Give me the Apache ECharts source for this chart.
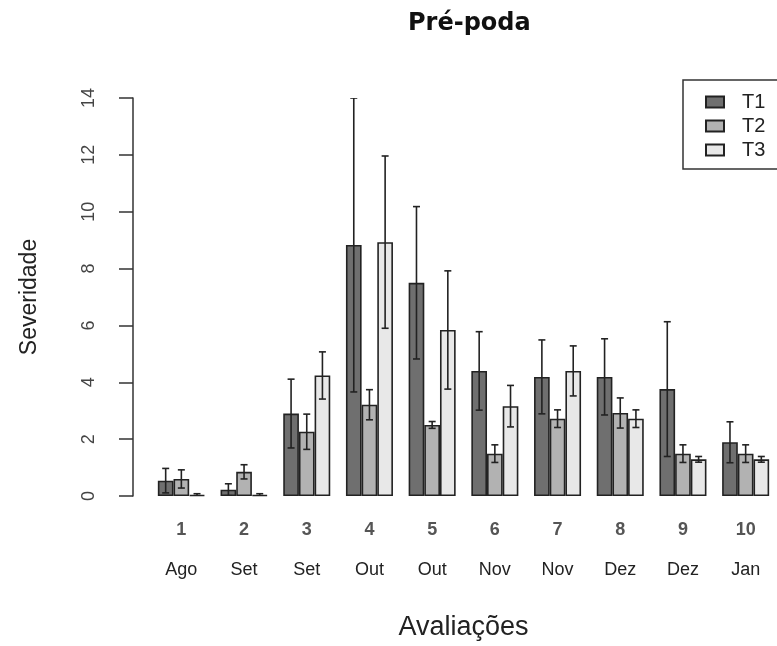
<!DOCTYPE html>
<html>
<head>
<meta charset="utf-8">
<script src="https://cdn.jsdelivr.net/npm/echarts@6/dist/echarts.min.js"></script>
<style>
  html, body { margin: 0; padding: 0; background: #fff; }
  #chart { width: 777px; height: 646px; }
</style>
</head>
<body>
<div id="chart"></div>
<script>
// avaliações (number + month)
var numbers = ["1", "2", "3", "4", "5", "6", "7", "8", "9", "10"];
var months = ["Ago", "Set", "Set", "Out", "Out", "Nov", "Nov", "Dez", "Dez", "Jan"];
var treatments = ["T1", "T2", "T3"];

// mean severity per evaluation
var t1Mean = [0.54, 0.22, 2.90, 8.83, 7.50, 4.40, 4.19, 4.19, 3.76, 1.89];
var t2Mean = [0.60, 0.85, 2.26, 3.21, 2.50, 1.49, 2.72, 2.92, 1.49, 1.49];
var t3Mean = [0.03, 0.03, 4.24, 8.93, 5.84, 3.16, 4.40, 2.72, 1.29, 1.29];

// error (half length of bar)
var t1Err = [0.43, 0.21, 1.21, 5.17, 2.68, 1.38, 1.30, 1.34, 2.37, 0.72];
var t2Err = [0.32, 0.25, 0.62, 0.53, 0.12, 0.31, 0.31, 0.53, 0.31, 0.31];
var t3Err = [0.05, 0.05, 0.83, 3.03, 2.08, 0.73, 0.88, 0.31, 0.10, 0.10];

var means = [t1Mean, t2Mean, t3Mean];
var errs = [t1Err, t2Err, t3Err];
var colors = ["#6f6f6f", "#b2b2b2", "#e8e8e8"];

var chart = echarts.init(document.getElementById("chart"));

var errData = [];
for (var t = 0; t < 3; t++) {
  for (var i = 0; i < numbers.length; i++) {
    errData.push([i, means[t][i] - errs[t][i], means[t][i] + errs[t][i], t]);
  }
}

var series = treatments.map(function (name, t) {
  return {
    name: name,
    type: "bar",
    data: means[t],
    barWidth: "25%",
    barGap: "0%",
    barCategoryGap: "25%",
    itemStyle: { color: colors[t], borderColor: "#222", borderWidth: 1.6 },
    silent: true
  };
});

series.push({
  type: "custom",
  data: errData,
  silent: true,
  clip: true,
  z: 5,
  renderItem: function (params, api) {
    var idx = api.value(0);
    var t = api.value(3);
    var band = api.size([1, 0])[0];
    var off = (t - 1) * band * 0.25;
    var lo = api.coord([idx, api.value(1)]);
    var hi = api.coord([idx, api.value(2)]);
    var x = lo[0] + off;
    var cap = 3.5;
    var st = { stroke: "#222", lineWidth: 1.6 };
    return {
      type: "group",
      children: [
        { type: "line", shape: { x1: x, y1: lo[1], x2: x, y2: hi[1] }, style: st },
        { type: "line", shape: { x1: x - cap, y1: lo[1], x2: x + cap, y2: lo[1] }, style: st },
        { type: "line", shape: { x1: x - cap, y1: hi[1], x2: x + cap, y2: hi[1] }, style: st }
      ]
    };
  }
});

var option = {
  animation: false,
  title: {
    text: "Pré-poda",
    left: 403,
    top: 7,
    textStyle: { fontFamily: "DejaVu Sans", fontWeight: "bold", fontSize: 24, color: "#111" }
  },
  legend: {
    data: treatments,
    icon: "rect",
    orient: "vertical",
    left: 683,
    top: 80,
    padding: [12, 40, 9, 22],
    itemWidth: 18,
    itemHeight: 11,
    itemGap: 4,
    borderColor: "#333",
    borderWidth: 1.5,
    textStyle: { fontFamily: "Liberation Sans", fontSize: 20, color: "#222", lineHeight: 20, padding: [0, 0, 0, 13] }
  },
  grid: { left: 150, top: 98, width: 631, height: 406 },
  xAxis: {
    type: "category",
    data: numbers,
    name: "Avaliações",
    nameLocation: "middle",
    nameGap: 118,
    nameTextStyle: { fontFamily: "Liberation Sans", fontSize: 27, color: "#222" },
    axisLine: { show: false },
    axisTick: { show: false },
    axisLabel: {
      margin: 14,
      interval: 0,
      formatter: function (v, i) {
        return "{n|" + v + "}\n{m|" + months[i] + "}";
      },
      rich: {
        n: { fontFamily: "Liberation Sans", fontSize: 18, fontWeight: "bold", color: "#555", lineHeight: 40 },
        m: { fontFamily: "Liberation Sans", fontSize: 18, color: "#222", lineHeight: 40 }
      }
    }
  },
  yAxis: {
    type: "value",
    min: 0,
    max: 14,
    interval: 2,
    offset: 17,
    name: "Severidade",
    nameLocation: "middle",
    nameRotate: 90,
    nameGap: 92,
    nameTextStyle: { fontFamily: "Liberation Sans", fontSize: 23, color: "#222" },
    axisLine: { show: true, lineStyle: { color: "#333", width: 1.5 } },
    axisTick: { show: true, length: 14, lineStyle: { color: "#333", width: 1.5 } },
    splitLine: { show: false },
    axisLabel: {
      rotate: 90,
      margin: 35,
      fontFamily: "Liberation Sans",
      fontSize: 18,
      color: "#444"
    }
  },
  series: series
};

chart.setOption(option);
</script>
</body>
</html>
